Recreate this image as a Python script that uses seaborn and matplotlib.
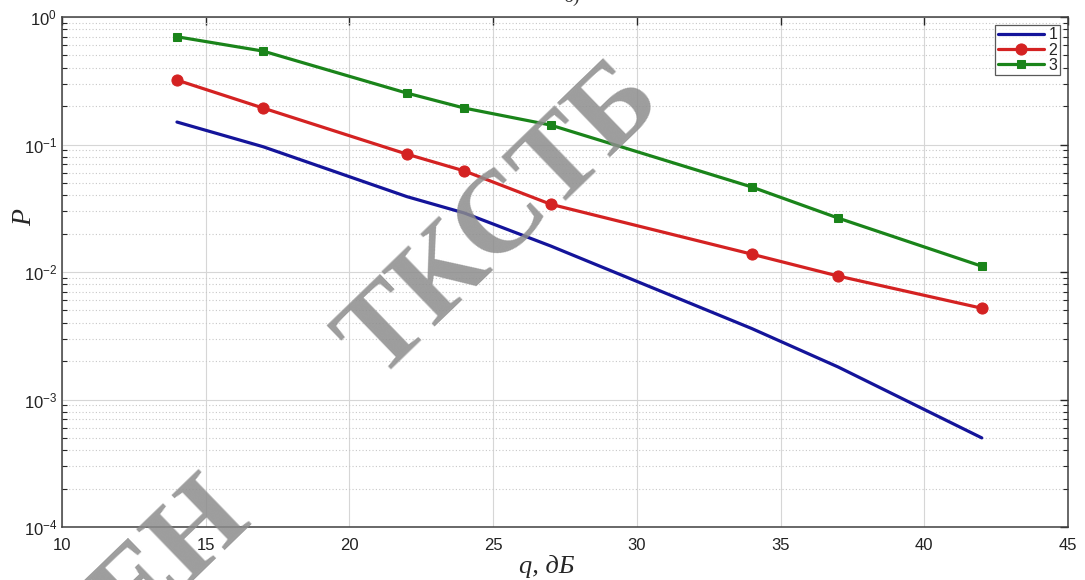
import numpy as np
import pandas as pd
import matplotlib
matplotlib.use("Agg")
import matplotlib.pyplot as plt
import seaborn as sns
from matplotlib.ticker import LogLocator, NullFormatter, FixedLocator

# ---- data ----
q_values = [14, 17, 22, 24, 27, 34, 37, 42]
p_curve1 = [0.15, 0.096, 0.039, 0.029, 0.016, 0.0036, 0.0018, 0.0005]
p_curve2 = [0.32, 0.193, 0.084, 0.062, 0.034, 0.0138, 0.0093, 0.0052]
p_curve3 = [0.70, 0.54, 0.253, 0.193, 0.142, 0.0464, 0.0265, 0.0111]
series_labels = ["1", "2", "3"]
x_ticks = [10, 15, 20, 25, 30, 35, 40, 45]

sns.set_theme(style="white")
plt.rcParams["font.family"] = ["Liberation Sans", "DejaVu Sans"]
plt.rcParams["mathtext.default"] = "regular"

fig = plt.figure(figsize=(10.85, 5.8), dpi=100)
ax = fig.add_axes([62/1085, 1-527/580, (1068-62)/1085, (527-17)/580])

df = pd.DataFrame({
    "q": q_values * 3,
    "P": p_curve1 + p_curve2 + p_curve3,
    "s": [series_labels[0]] * 8 + [series_labels[1]] * 8 + [series_labels[2]] * 8,
})

styles = {
    "1": dict(color="#14149a", marker=None, ms=0),
    "2": dict(color="#d42222", marker="o", ms=8),
    "3": dict(color="#1a841a", marker="s", ms=6),
}
for s in series_labels:
    st = styles[s]
    sub = df[df["s"] == s]
    sns.lineplot(data=sub, x="q", y="P", ax=ax, color=st["color"], lw=2.3,
                 marker=st["marker"], markersize=st["ms"],
                 markeredgecolor=st["color"], label=s, zorder=3)

ax.set_yscale("log")
ax.set_xlim(10, 45)
ax.set_ylim(1e-4, 1)
ax.xaxis.set_major_locator(FixedLocator(x_ticks))
ax.yaxis.set_major_locator(LogLocator(base=10, numticks=10))
ax.yaxis.set_minor_locator(LogLocator(base=10, subs=np.arange(2, 10), numticks=20))
ax.yaxis.set_minor_formatter(NullFormatter())

ax.grid(True, which="major", color="#d6d6d6", lw=0.8, ls="-")
ax.grid(True, which="minor", axis="y", color="#c8c8c8", lw=0.8, ls=(0, (1, 2)))

ax.tick_params(which="both", direction="in", top=True, right=True,
               colors="#262626", labelsize=12, labelcolor="#222222")
ax.tick_params(which="major", length=6, width=1)
ax.tick_params(which="minor", length=3.5, width=0.8, left=True, right=True)
ax.tick_params(axis="x", pad=8)
for sp in ax.spines.values():
    sp.set_color("#404040")
    sp.set_linewidth(1.1)

ax.set_xlabel("q, дБ", fontsize=19, family=["Liberation Serif", "DejaVu Serif"],
              style="italic")
ax.set_ylabel("P", fontsize=20, family=["Liberation Serif", "DejaVu Serif"],
              style="italic")
ax.xaxis.set_label_coords(0.482, -0.055)
ax.yaxis.set_label_coords(-0.025, 0.606)

leg = ax.legend(loc="upper right", fontsize=11.5, frameon=True, fancybox=False,
                handlelength=2.9, handletextpad=0.3, borderpad=0.15,
                labelspacing=0.02, borderaxespad=0.5)
leg.get_frame().set_edgecolor("#303030")
leg.get_frame().set_linewidth(0.9)

# watermark
fig.text(0.462, 0.617, "ТКСТБ", rotation=44, fontsize=84, fontweight="bold",
         family=["Liberation Serif", "DejaVu Serif"], color="#8c8c8c",
         alpha=0.85, ha="center", va="center", zorder=10)
fig.text(0.160, 0.035, "ЕН", rotation=44, fontsize=84, fontweight="bold",
         family=["Liberation Serif", "DejaVu Serif"], color="#8c8c8c",
         alpha=0.85, ha="center", va="center", zorder=10)
fig.text(0.527, 1.005, "б)", fontsize=14, family=["Liberation Serif", "DejaVu Serif"],
         color="#333333", ha="center", va="center")

fig.savefig("out.png", dpi=100)
